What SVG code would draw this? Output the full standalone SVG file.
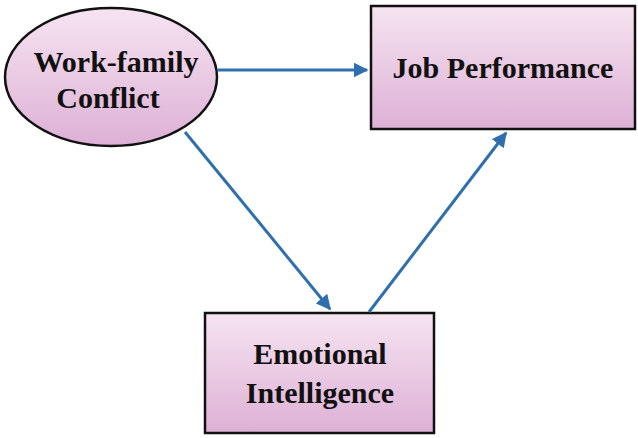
<svg xmlns="http://www.w3.org/2000/svg" width="638" height="438" viewBox="0 0 638 438">
<style>
.n{stroke:#111;stroke-width:2.5;fill:url(#g)}
.t{font-family:"Liberation Serif",serif;font-weight:bold;font-size:30px;fill:#111;text-anchor:middle}
.c{stroke:#2f6fae;stroke-width:3;fill:none;marker-end:url(#a)}
</style>
<defs>
<linearGradient id="g" x1="0" y1="0" x2="0" y2="1"><stop offset="0" stop-color="#f6e4f0"/><stop offset="1" stop-color="#ddb0d6"/></linearGradient>
<marker id="a" viewBox="0 0 10 10" refX="9" refY="5" markerWidth="5" markerHeight="5" orient="auto"><path d="M0,0L10,5L0,10z" fill="#2f6fae"/></marker>
</defs>
<rect width="638" height="438" fill="#fff"/>
<g id="wfc"><ellipse class="n" cx="111" cy="77" rx="106" ry="69"/><text class="t" x="116" y="72">Work-family</text><text class="t" x="108" y="108">Conflict</text></g>
<g id="jp"><rect class="n" x="371" y="6" width="264" height="123"/><text class="t" x="503" y="78">Job Performance</text></g>
<g id="ei"><rect class="n" x="205" y="313" width="229" height="120"/><text class="t" x="320" y="364">Emotional</text><text class="t" x="320" y="403">Intelligence</text></g>
<g id="connectors">
<line class="c" x1="218" y1="70" x2="367" y2="70"/>
<line class="c" x1="185" y1="132" x2="330" y2="309"/>
<line class="c" x1="369" y1="312" x2="506" y2="133"/>
</g>
</svg>
